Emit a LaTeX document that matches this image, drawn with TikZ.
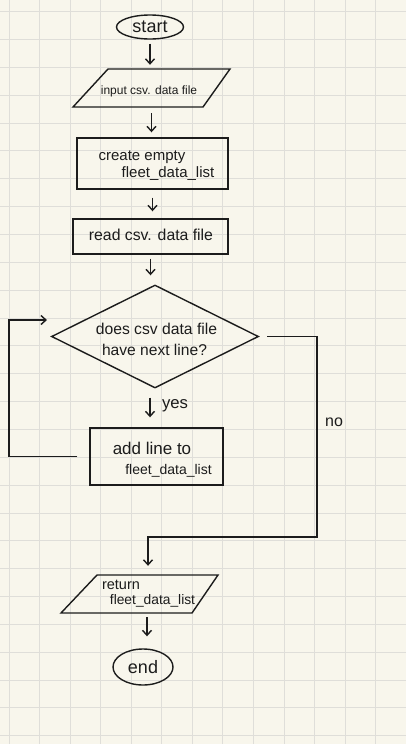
\documentclass[tikz,border=0pt]{standalone}
\usepackage{fontspec}
\setmainfont{Liberation Sans}
\usetikzlibrary{shapes.geometric,arrows.meta}
\definecolor{paper}{HTML}{F8F6EC}
\definecolor{gridc}{HTML}{DFDED9}
\definecolor{ink}{HTML}{1C1C1C}
\tikzset{
  shp/.style={draw=ink, line width=1.4pt},
  txt/.style={text=ink, inner sep=0pt, anchor=base},
  arr/.style={draw=ink, line width=1.4pt, -{Straight Barb[length=5pt,width=9pt,line width=1.4pt]}},
  anchorbox/.style={draw=none, rectangle, inner sep=0pt},
  fs/.style={font=\fontsize{#1}{#1}\selectfont},
}
\begin{document}
\begin{tikzpicture}[x=1pt,y=-1pt]
\fill[paper] (0,0) rectangle (406,744);
\useasboundingbox (0,0) rectangle (406,744);
\foreach \k in {0,...,13} \draw[gridc, line width=1pt] (9+30.56*\k,0) -- (9+30.56*\k,744);
\foreach \k in {0,...,26} \draw[gridc, line width=1pt] (0,11.7+27.85*\k) -- (406,11.7+27.85*\k);

% start
\node[shp, ellipse, minimum width=67pt, minimum height=24pt, inner sep=0pt, text=ink, fs=18] (start) at (150,27) {start};

% input
\node[anchorbox, minimum width=157pt, minimum height=38pt] (input) at (151.5,88) {};
\draw[shp] (108,69) -- (230,69) -- (203,107) -- (73,107) -- cycle;
\node[txt, fs=12] (tinput) at (149,94) {input csv. data file};

% create
\node[shp, rectangle, minimum width=151pt, minimum height=51pt, inner sep=0pt] (create) at (152.5,163.5) {};
\node[txt, fs=15] (tcreate1) at (142,160) {create empty};
\node[txt, fs=15] (tcreate2) at (168,177) {fleet\_data\_list};

% read
\node[shp, rectangle, minimum width=155pt, minimum height=35pt, inner sep=0pt] (read) at (150.5,236.5) {};
\node[txt, fs=15.8] (tread) at (151,240) {read csv. data file};

% decision
\node[shp, diamond, minimum width=207pt, minimum height=103pt, inner sep=0pt] (dec) at (155,336.5) {};
\node[txt, fs=15.7] (tdec1) at (156.5,334) {does csv data file};
\node[txt, fs=15.6] (tdec2) at (154.5,355) {have next line?};

% add
\node[shp, rectangle, minimum width=133pt, minimum height=57pt, inner sep=0pt] (add) at (156.5,456.5) {};
\node[txt, fs=17] (tadd1) at (152,454) {add line to};
\node[txt, fs=14] (tadd2) at (168.5,474) {fleet\_data\_list};

% return
\node[anchorbox, minimum width=157pt, minimum height=38pt] (ret) at (139.5,594) {};
\draw[shp] (97,575) -- (218,575) -- (192,613) -- (61,613) -- cycle;
\node[txt, fs=14.5] (tret1) at (121,589) {return};
\node[txt, fs=13.8] (tret2) at (152.5,604) {fleet\_data\_list};

% end
\node[shp, ellipse, minimum width=60pt, minimum height=36pt, inner sep=0pt, text=ink, fs=18] (end) at (143,667) {end};

% labels
\node[txt, fs=16.7] (yes) at (175,408) {yes};
\node[txt, fs=16] (no) at (334,426) {no};

% arrows
\draw[arr, shorten <=4pt, shorten >=4pt] (start.south) -- (start.south |- input.north);
\draw[arr, shorten <=6pt, shorten >=5pt] (input.south) -- (input.south |- create.north);
\draw[arr, shorten <=8pt, shorten >=7pt] (create.south) -- (create.south |- read.north);
\draw[arr, shorten <=4pt, shorten >=9pt] (read.south) -- (read.south |- dec.north);
\draw[arr, shorten <=9pt, shorten >=10pt] ([xshift=-5pt]dec.south) -- ([xshift=-5pt]dec.south |- add.north);
\draw[arr, shorten <=4pt, shorten >=12pt] ([xshift=4pt]end.north |- ret.south) -- ([xshift=4pt]end.north);

% loop back
\coordinate (lpB) at (9,320);
\coordinate (lpC) at (47,320);
\draw[arr, shorten <=12pt] (add.west) -| (lpB) -- (lpC);

% no branch
\coordinate (noB) at (317,537);
\coordinate (noC) at (148,537);
\draw[arr, shorten <=8pt, shorten >=9pt] (dec.east) -| (noB) -- (noC) -- (noC |- ret.north);
\end{tikzpicture}
\end{document}
